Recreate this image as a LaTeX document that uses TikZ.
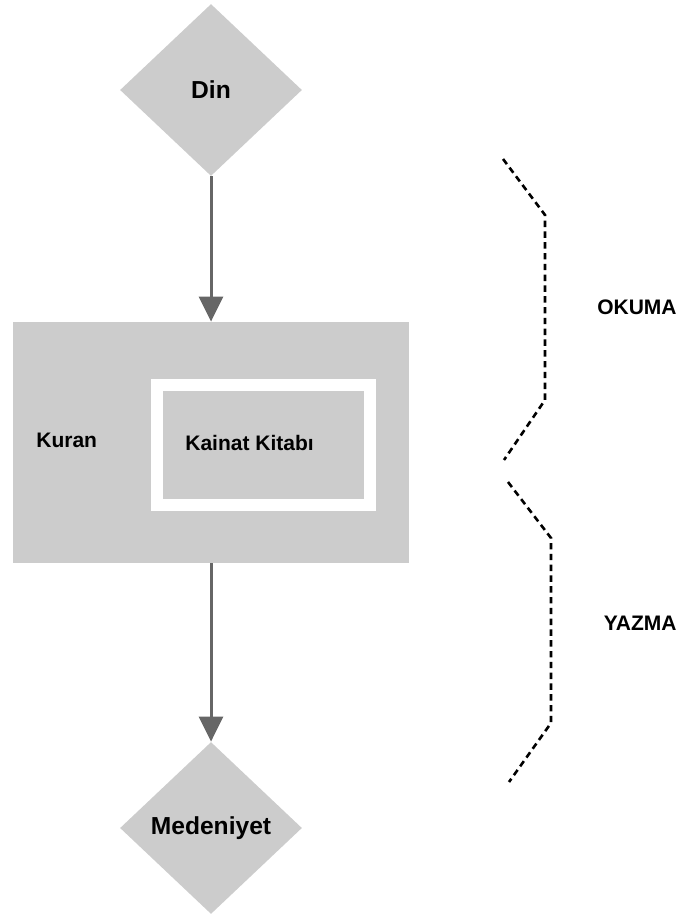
\documentclass[tikz,border=0pt]{standalone}
\usepackage{fontspec}
\setmainfont{Liberation Sans}
\usetikzlibrary{shapes.geometric,arrows.meta,positioning}
\definecolor{boxgray}{RGB}{204,204,204}
\definecolor{arrowgray}{RGB}{102,102,102}

\begin{document}
\begin{tikzpicture}[x=0.5pt, y=-0.5pt,
  font=\fontsize{10.5}{12.6}\selectfont\bfseries,
  stage/.style={diamond, fill=boxgray, minimum width=91pt, minimum height=86pt, inner sep=0pt,
    font=\fontsize{12.3}{14.5}\selectfont\bfseries},
  flow/.style={-{Triangle[length=12.5pt, width=12pt]}, arrowgray, line width=1.5pt},
  brace/.style={dash pattern=on 3.2pt off 2.2pt, line width=1.3pt},
  lbl/.style={inner sep=0pt}]
\useasboundingbox (0,0) rectangle (682,920);

% flow
\node[stage] (din) at (211,90) {Din};
\node[fill=boxgray, minimum width=198pt, minimum height=120.5pt, inner sep=0pt] (kuran) at (211,442.5) {};
\node[fill=boxgray, draw=white, line width=6pt, minimum width=106.5pt, minimum height=60pt, inner sep=0pt] (kainat) at (263.5,445) {};
\node[stage] (medeniyet) at (211,828) {Medeniyet};

\node[lbl, anchor=west] (kuranlbl) at (36,440) {Kuran};
\node[lbl, anchor=west] (kainatlbl) at (185,443) {Kainat Kitabı};

\draw[flow] (din.south) -- (kuran.north);
\draw[flow] (kuran.south) -- (medeniyet.north);

% brackets
\draw[brace] (503,159) -- (545,215) -- (545,400) -- (504,460);
\draw[brace] (508,482) -- (551,538) -- (551,723) -- (509,782);
\node[lbl, anchor=east] (okuma) at (677,307) {OKUMA};
\node[lbl, anchor=east] (yazma) at (677,623) {YAZMA};
\end{tikzpicture}
\end{document}
